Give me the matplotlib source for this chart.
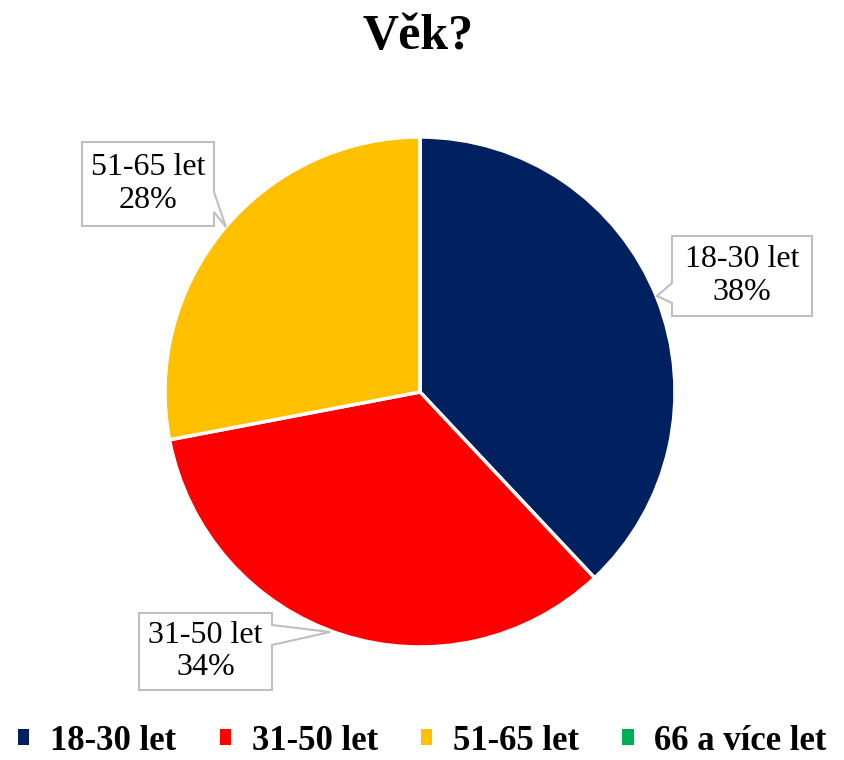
import matplotlib
matplotlib.use("Agg")
import matplotlib.pyplot as plt
from matplotlib.patches import Polygon, Patch

categories = ["18-30 let", "31-50 let", "51-65 let", "66 a více let"]
shares = [38, 34, 28, 0]
colors = ["#002060", "#FF0000", "#FFC000", "#00B050"]
title = "Věk?"

W, H = 845, 760
plt.rcParams["font.family"] = ["Liberation Serif", "DejaVu Serif"]

fig = plt.figure(figsize=(W / 100, H / 100), dpi=100)
ax = fig.add_axes([0, 0, 1, 1])


def up(y):
    return H - y


cx, cy, r = 420, 392, 255
ax.pie(shares, colors=colors, startangle=90, counterclock=False,
       center=(cx, up(cy)), radius=r,
       wedgeprops=dict(edgecolor="white", linewidth=2.5))
ax.set_xlim(0, W)
ax.set_ylim(0, H)
ax.set_aspect("equal")
ax.axis("off")

# callout boxes: (left, top, right, bottom, side, notch1, notch2, tip)
callouts = {
    0: (672, 236, 812, 316, "left", 283, 303, (657, 296)),
    1: (139, 613, 272, 690, "right", 625, 645, (330, 632)),
    2: (82, 142, 214, 226, "right", 192, 212, (226, 227)),
}
for i, (l, t, rr, b, side, p1, p2, tip) in callouts.items():
    if side == "right":
        pts = [(l, t), (rr, t), (rr, p1), tip, (rr, p2), (rr, b), (l, b)]
    else:
        pts = [(l, t), (rr, t), (rr, b), (l, b), (l, p2), tip, (l, p1)]
    pts = [(x, up(y)) for x, y in pts]
    ax.add_patch(Polygon(pts, closed=True, facecolor="white",
                         edgecolor="#BFBFBF", linewidth=1.5, zorder=5))
    ax.text((l + rr) / 2, up((t + b) / 2), f"{categories[i]}\n{shares[i]}%",
            ha="center", va="center", fontsize=23, linespacing=1.15,
            color="black", zorder=6)

fig.text(418 / W, 1 - 37 / H, title, ha="center", va="center",
         fontsize=36, fontweight="bold")

handles = [Patch(facecolor=c, edgecolor="none") for c in colors]
fig.legend(handles, categories, loc="center", bbox_to_anchor=(0.5, 1 - 741 / H),
           ncol=4, frameon=False, handlelength=0.32, handleheight=0.32,
           handletextpad=0.6, columnspacing=1.25, borderpad=0.1,
           prop={"weight": "bold", "size": 25})

fig.savefig("out.png", dpi=100)
